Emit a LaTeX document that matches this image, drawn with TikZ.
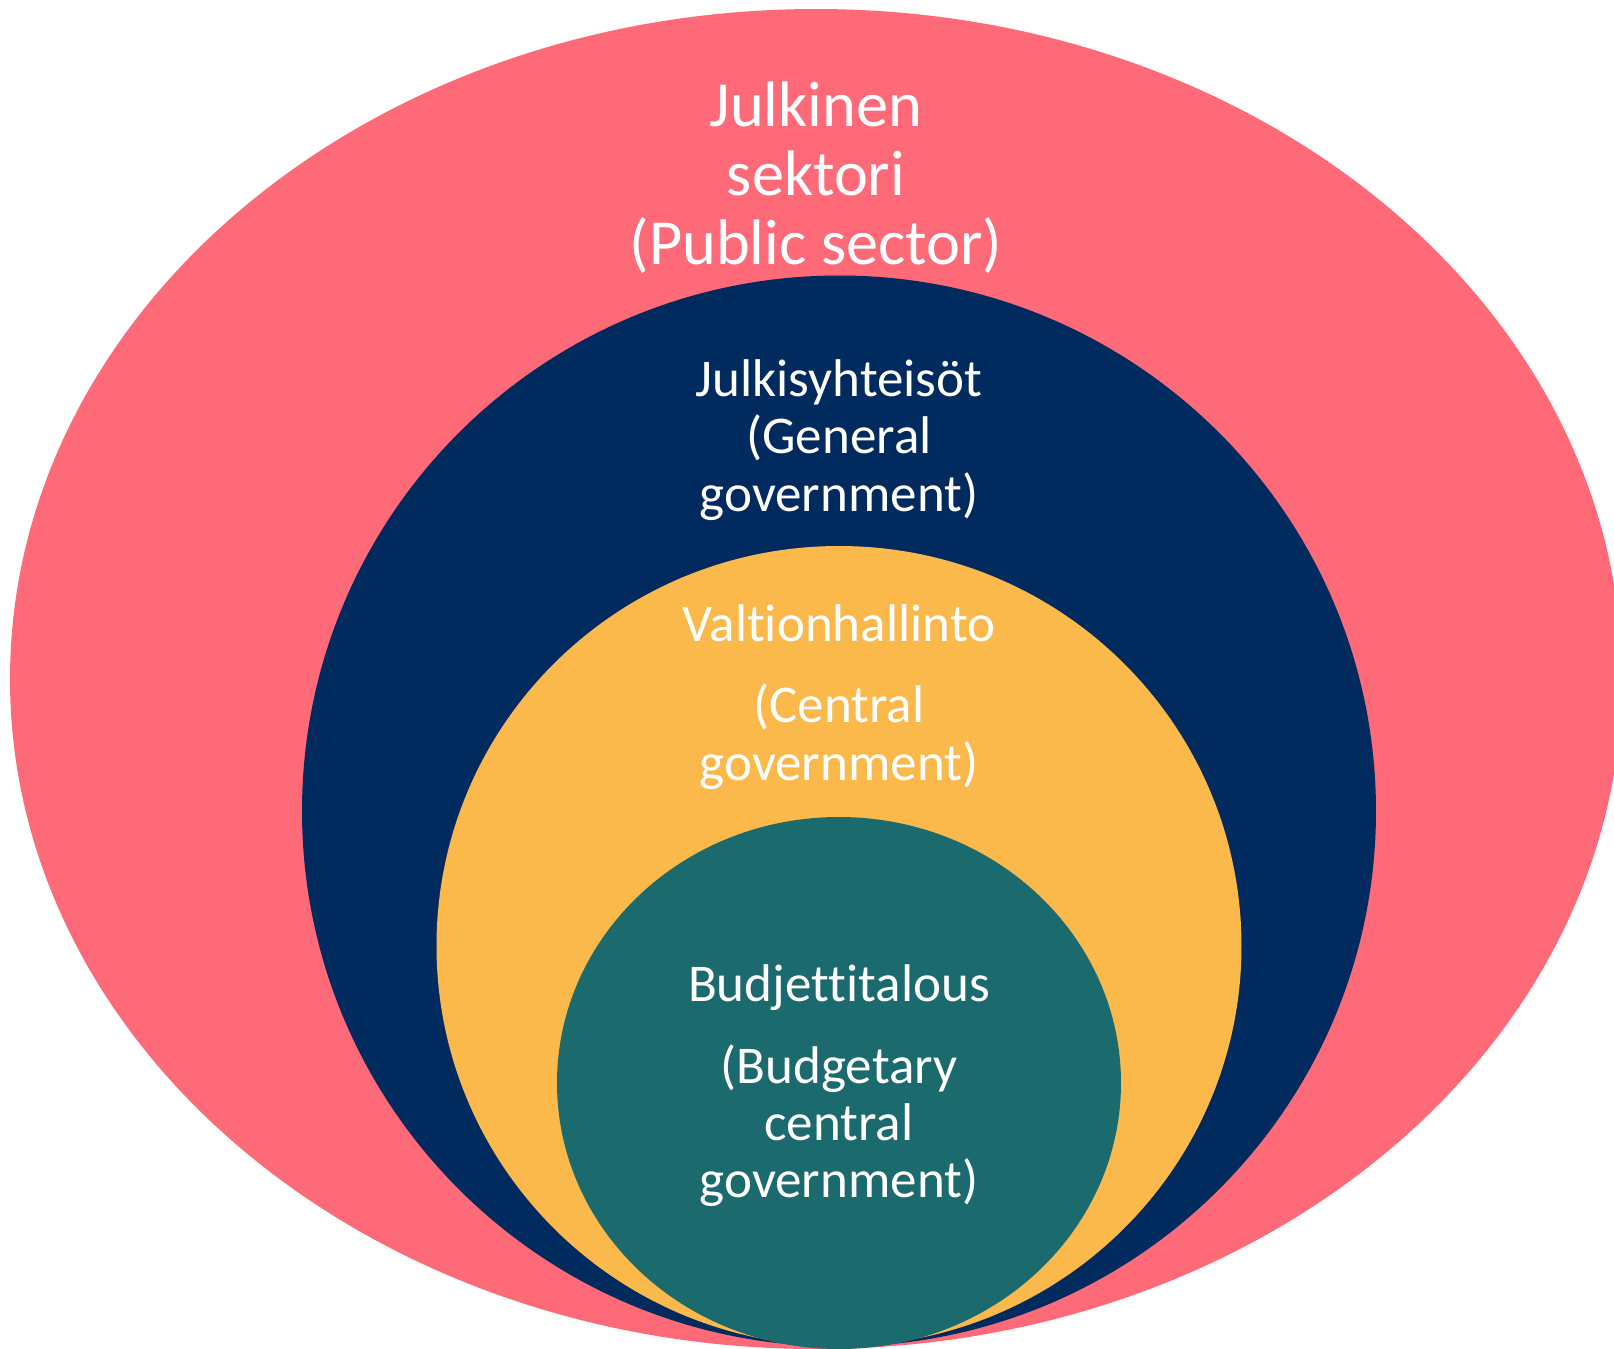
\documentclass[tikz,border=0pt]{standalone}
\usepackage{fontspec}
\setmainfont{Carlito}[Ligatures=NoCommon]
\usepackage{xcolor}
\usetikzlibrary{shapes.geometric}
\definecolor{sektorpink}{RGB}{255,106,120}
\definecolor{hallnavy}{RGB}{1,42,94}
\definecolor{valtioyellow}{RGB}{251,184,75}
\definecolor{budjteal}{RGB}{27,106,110}

\begin{document}
\begin{tikzpicture}[x=0.1mm, y=-0.1mm,
	ring/.style={ellipse, draw=none, inner sep=0pt, outer sep=0pt},
	lbl/.style={text=white, align=center, inner sep=0pt, font=\fontsize{15.1}{16.3}\selectfont}]
	\useasboundingbox (0,0) rectangle (1614,1349);
	% the nested sectors, largest first
	\node[ring, fill=sektorpink, minimum width=161.2mm, minimum height=134mm] (public) at (816,679) {};
	\node[ring, fill=hallnavy, minimum width=107.4mm, minimum height=107.1mm] (general) at (839,811) {};
	\node[ring, fill=valtioyellow, minimum width=80.5mm, minimum height=80mm] (central) at (839,946) {};
	\node[ring, fill=budjteal, minimum width=56.4mm, minimum height=53.2mm] (budget) at (839,1083) {};
	% labels
	\node[lbl, font=\fontsize{18.3}{19.6}\selectfont] (publiclbl) at (816,178) {Julkinen\\sektori\\(Public sector)};
	\node[lbl] (generallbl) at (839,440) {Julkisyhteisöt\\(General\\government)};
	\node[lbl] (centrallbl) at (839,697) {Valtionhallinto\\[6.8pt](Central\\government)};
	\node[lbl] (budgetlbl) at (839,1086) {Budjettitalous\\[6.8pt](Budgetary\\central\\government)};
\end{tikzpicture}
\end{document}
